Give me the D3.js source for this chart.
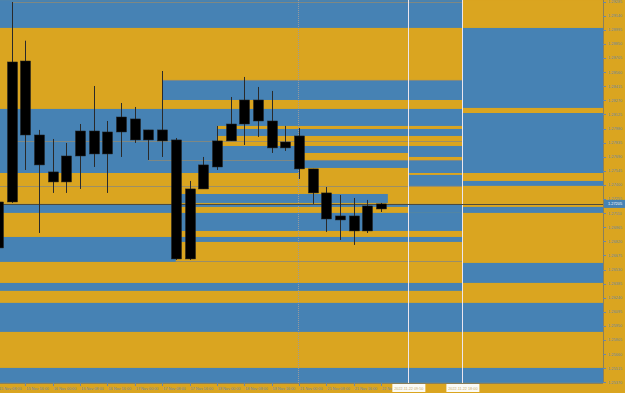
<!DOCTYPE html>
<html>
<head>
<meta charset="utf-8">
<script src="https://cdn.jsdelivr.net/npm/d3@7"></script>
<style>
  body { margin: 0; background: #DAA520; }
  svg { display: block; }
  text { font-family: "Liberation Sans", Arial, sans-serif; }
</style>
</head>
<body>
<svg id="chart"></svg>
<script>
// H4 candles, index 0 = 15 Nov 08:00, index 28 = 22 Nov 00:00
var open  = [1.26752,1.27225,1.28675,1.27914,1.27534,1.27431,1.27698,1.27955,1.27719,1.27945,1.28079,1.27863,1.27966,1.27863,1.26639,1.27359,1.27585,1.27853,1.28027,1.28274,1.28058,1.27781,1.27904,1.27565,1.27318,1.27040,1.27081,1.26927,1.27153]
var high  = [1.27230,1.29282,1.28884,1.27966,1.27873,1.27832,1.28027,1.28418,1.28058,1.28243,1.28202,1.27966,1.28572,1.27883,1.27441,1.27688,1.28007,1.28305,1.28511,1.28408,1.28367,1.28007,1.27986,1.27565,1.27379,1.27297,1.27266,1.27246,1.27215]
var low   = [1.26740,1.27215,1.27554,1.26906,1.27318,1.27318,1.27359,1.27585,1.27318,1.27688,1.27832,1.27657,1.27688,1.26629,1.26629,1.27359,1.27554,1.27853,1.27811,1.27894,1.27729,1.27750,1.27462,1.27205,1.26917,1.26834,1.26783,1.26906,1.27122]
var close = [1.27225,1.28665,1.27914,1.27606,1.27431,1.27698,1.27955,1.27719,1.27945,1.28099,1.27863,1.27966,1.27853,1.26639,1.27359,1.27606,1.27853,1.28027,1.28274,1.28058,1.27781,1.27842,1.27565,1.27318,1.27050,1.27081,1.26927,1.27184,1.27205]

// time axis labels (every 2nd bar)
var timeIdx = [0,2,4,6,8,10,12,14,16,18,20,22,24,26,28]
var timeLabels = ["15 Nov 08:00","15 Nov 16:00","16 Nov 00:00","16 Nov 08:00","16 Nov 16:00","17 Nov 00:00","17 Nov 08:00","17 Nov 16:00","18 Nov 00:00","18 Nov 08:00","18 Nov 16:00","21 Nov 00:00","21 Nov 08:00","21 Nov 16:00","22 Nov 00:00"]

// price axis labels
var priceTicks = [1.29285,1.29140,1.28995,1.28850,1.28705,1.28560,1.28415,1.28270,1.28125,1.27980,1.27835,1.27690,1.27545,1.27400,1.27255,1.27110,1.26965,1.26820,1.26675,1.26530,1.26385,1.26240,1.26095,1.25950,1.25805,1.25660,1.25515,1.25370]

// vertical marker lines (bar index) and their labels
var markIdx = [30, 33.95]
var markLabels = ["2022.11.22 09:50", "2022.11.22 18:00"]
var separatorIdx = 22

// horizontal bands left of marker 2, and right of it (price levels + colours)
var levelsLeft  = [1.29302,1.29015,1.28182,1.27523,1.27205,1.27112,1.26865,1.26608,1.26392,1.26310,1.26187,1.25888,1.25518,1.25364]
var coloursLeft = ["b","g","b","g","b","g","b","g","b","g","b","g","b"]
var levelsRight  = [1.29302,1.29015,1.28192,1.28140,1.27523,1.27441,1.27390,1.27174,1.27112,1.26598,1.26392,1.26187,1.25888,1.25518,1.25364]
var coloursRight = ["g","b","g","b","g","b","g","b","g","b","g","b","g","b"]

// zones: [from, to, top price, bottom price, colour]
var zones = [
  [12, "l2", 1.28480, 1.28274, "b"],
  [16, "l2", 1.28007, 1.27976, "g"],
  [16, "l2", 1.27904, 1.27801, "g"],
  [22, "l1", 1.27729, 1.27657, "g"],
  ["l1", "l2", 1.27688, 1.27657, "g"],
  [22, "l1", 1.27575, 1.27523, "g"],
  ["l1", "l2", 1.27523, 1.27503, "g"],
  ["l1", "l2", 1.27503, 1.27390, "b"],
  [13, 28.5, 1.27307, 1.27215, "b"],
  [13, "l1", 1.27174, 1.27112, "g"],
  [13, "l2", 1.27112, 1.26927, "b"],
  [13, "l2", 1.26814, 1.26608, "g"]
]

// thin level lines: [from, to, price]
var levelLines = [
  [1, "l2", 1.29282],
  [12, "l2", 1.28480],
  [1, "l2", 1.27853],
  [11, "l2", 1.27657],
  ["L", "l2", 1.27390],
  [13, "l2", 1.26619]
]

var W = 625, H = 393, plotR = 603, plotB = 383
var blue = "#4682B4", gold = "#DAA520"
function col(c){ return c == "b" ? blue : gold }

var y = d3.scaleLinear().domain([1.29285, 1.25370]).range([1.7, 382.3])
var x = d3.scaleLinear().domain([0, 28]).range([-2, 381])
var xL1 = x(markIdx[0]), xL2 = x(markIdx[1])
function xOf(v){
  if (v == "l1") return xL1
  if (v == "l2") return xL2
  if (v == "L") return 0
  return x(v)
}

var svg = d3.select("#chart")
    .attr("width", W)
    .attr("height", H)

svg.append("rect")
    .attr("width", W)
    .attr("height", H)
    .attr("fill", gold)

svg.append("clipPath")
    .attr("id", "clip")
    .append("rect")
    .attr("width", plotR)
    .attr("height", plotB)

// time labels stop where the first marker label box begins
svg.append("clipPath")
    .attr("id", "tclip")
    .append("rect")
    .attr("x", 0)
    .attr("width", xL1 - 16)
    .attr("height", H)

var plot = svg.append("g").attr("clip-path", "url(#clip)")

// base bands
plot.append("g").selectAll("rect")
    .data(d3.pairs(levelsLeft))
    .enter()
    .append("rect")
    .attr("x", 0)
    .attr("width", xL2)
    .attr("y", function(d){ return y(d[0]) })
    .attr("height", function(d){ return y(d[1]) - y(d[0]) })
    .attr("fill", function(d, i){ return col(coloursLeft[i]) })

plot.append("g").selectAll("rect")
    .data(d3.pairs(levelsRight))
    .enter()
    .append("rect")
    .attr("x", xL2)
    .attr("width", plotR - xL2)
    .attr("y", function(d){ return y(d[0]) })
    .attr("height", function(d){ return y(d[1]) - y(d[0]) })
    .attr("fill", function(d, i){ return col(coloursRight[i]) })

// zones
plot.append("g").selectAll("rect")
    .data(zones)
    .enter()
    .append("rect")
    .attr("x", function(d){ return xOf(d[0]) })
    .attr("width", function(d){ return xOf(d[1]) - xOf(d[0]) })
    .attr("y", function(d){ return y(d[2]) })
    .attr("height", function(d){ return y(d[3]) - y(d[2]) })
    .attr("fill", function(d){ return col(d[4]) })

// level lines
plot.append("g").selectAll("line")
    .data(levelLines)
    .enter()
    .append("line")
    .attr("x1", function(d){ return xOf(d[0]) })
    .attr("x2", function(d){ return xOf(d[1]) })
    .attr("y1", function(d){ return Math.round(y(d[2])) + 0.5 })
    .attr("y2", function(d){ return Math.round(y(d[2])) + 0.5 })
    .attr("stroke", "#8d8a78")
    .attr("stroke-width", 1)
    .attr("opacity", 0.8)

// period separator
plot.append("line")
    .attr("x1", Math.round(x(separatorIdx)) - 0.5)
    .attr("x2", Math.round(x(separatorIdx)) - 0.5)
    .attr("y1", 0)
    .attr("y2", plotB)
    .attr("stroke", "#9a9a9a")
    .attr("stroke-dasharray", "1,1")

// marker lines
plot.append("g").selectAll("line")
    .data(markIdx)
    .enter()
    .append("line")
    .attr("x1", function(d){ return Math.round(x(d)) + 0.5 })
    .attr("x2", function(d){ return Math.round(x(d)) + 0.5 })
    .attr("y1", 0)
    .attr("y2", plotB)
    .attr("stroke", "#ece6ee")
    .attr("stroke-width", 1)

// current price line
var last = close[close.length - 1]
plot.append("line")
    .attr("x1", 0)
    .attr("x2", plotR)
    .attr("y1", Math.round(y(last)) + 0.5)
    .attr("y2", Math.round(y(last)) + 0.5)
    .attr("stroke", "#4d4a3c")
    .attr("stroke-width", 1)

// candles
var bars = d3.range(open.length)

plot.append("g").selectAll("line")
    .data(bars)
    .enter()
    .append("line")
    .attr("x1", function(i){ return Math.round(x(i)) + 0.5 })
    .attr("x2", function(i){ return Math.round(x(i)) + 0.5 })
    .attr("y1", function(i){ return y(high[i]) })
    .attr("y2", function(i){ return y(low[i]) })
    .attr("stroke", "#2a2a2a")
    .attr("stroke-width", 1)

plot.append("g").selectAll("rect")
    .data(bars)
    .enter()
    .append("rect")
    .attr("x", function(i){ return Math.round(x(i)) - 4.5 })
    .attr("width", 10)
    .attr("y", function(i){ return y(Math.max(open[i], close[i])) })
    .attr("height", function(i){ return Math.max(1, Math.abs(y(open[i]) - y(close[i]))) })
    .attr("fill", "#000")
    .attr("stroke", "#222")
    .attr("stroke-width", 0.5)

// axes frame
svg.append("line")
    .attr("x1", plotR + 0.5).attr("x2", plotR + 0.5)
    .attr("y1", 0).attr("y2", plotB)
    .attr("stroke", "#8a7f5a")
svg.append("line")
    .attr("x1", 0).attr("x2", plotR)
    .attr("y1", plotB + 0.5).attr("y2", plotB + 0.5)
    .attr("stroke", "#8a7f5a")

var axisColour = "#6a86a6"

// price labels
var pAxis = svg.append("g")
pAxis.selectAll("line")
    .data(priceTicks)
    .enter()
    .append("line")
    .attr("x1", plotR).attr("x2", plotR + 3)
    .attr("y1", function(d){ return Math.round(y(d)) + 0.5 })
    .attr("y2", function(d){ return Math.round(y(d)) + 0.5 })
    .attr("stroke", axisColour)
pAxis.selectAll("text")
    .data(priceTicks)
    .enter()
    .append("text")
    .attr("x", plotR + 5)
    .attr("y", function(d){ return y(d) + 1.4 })
    .attr("font-size", "3.9px")
    .attr("fill", axisColour)
    .text(function(d){ return d.toFixed(5) })

// current price box
svg.append("rect")
    .attr("x", plotR + 1)
    .attr("y", y(last) - 4)
    .attr("width", W - plotR - 1)
    .attr("height", 8)
    .attr("fill", blue)
svg.append("text")
    .attr("x", plotR + 5)
    .attr("y", y(last) + 1.4)
    .attr("font-size", "3.9px")
    .attr("fill", "#ffffff")
    .text(last.toFixed(5))

// time labels
var tAxis = svg.append("g").attr("clip-path", "url(#tclip)")
tAxis.selectAll("line")
    .data(timeIdx)
    .enter()
    .append("line")
    .attr("x1", function(d){ return Math.round(x(d)) + 0.5 })
    .attr("x2", function(d){ return Math.round(x(d)) + 0.5 })
    .attr("y1", plotB).attr("y2", plotB + 3)
    .attr("stroke", axisColour)
tAxis.selectAll("text")
    .data(timeIdx)
    .enter()
    .append("text")
    .attr("x", function(d){ return x(d) + 1 })
    .attr("y", plotB + 6.5)
    .attr("font-size", "3.8px")
    .attr("fill", axisColour)
    .text(function(d, i){ return timeLabels[i] })

// marker label boxes
var mk = svg.append("g").selectAll("g")
    .data(markIdx)
    .enter()
    .append("g")
mk.append("rect")
    .attr("x", function(d){ return x(d) - 16 })
    .attr("y", plotB + 1)
    .attr("width", 33)
    .attr("height", 8)
    .attr("fill", "#fbfbf6")
mk.append("text")
    .attr("x", function(d){ return x(d) + 0.5 })
    .attr("y", plotB + 6.5)
    .attr("text-anchor", "middle")
    .attr("font-size", "3.8px")
    .attr("fill", "#c9ad6a")
    .text(function(d, i){ return markLabels[i] })
</script>
</body>
</html>
